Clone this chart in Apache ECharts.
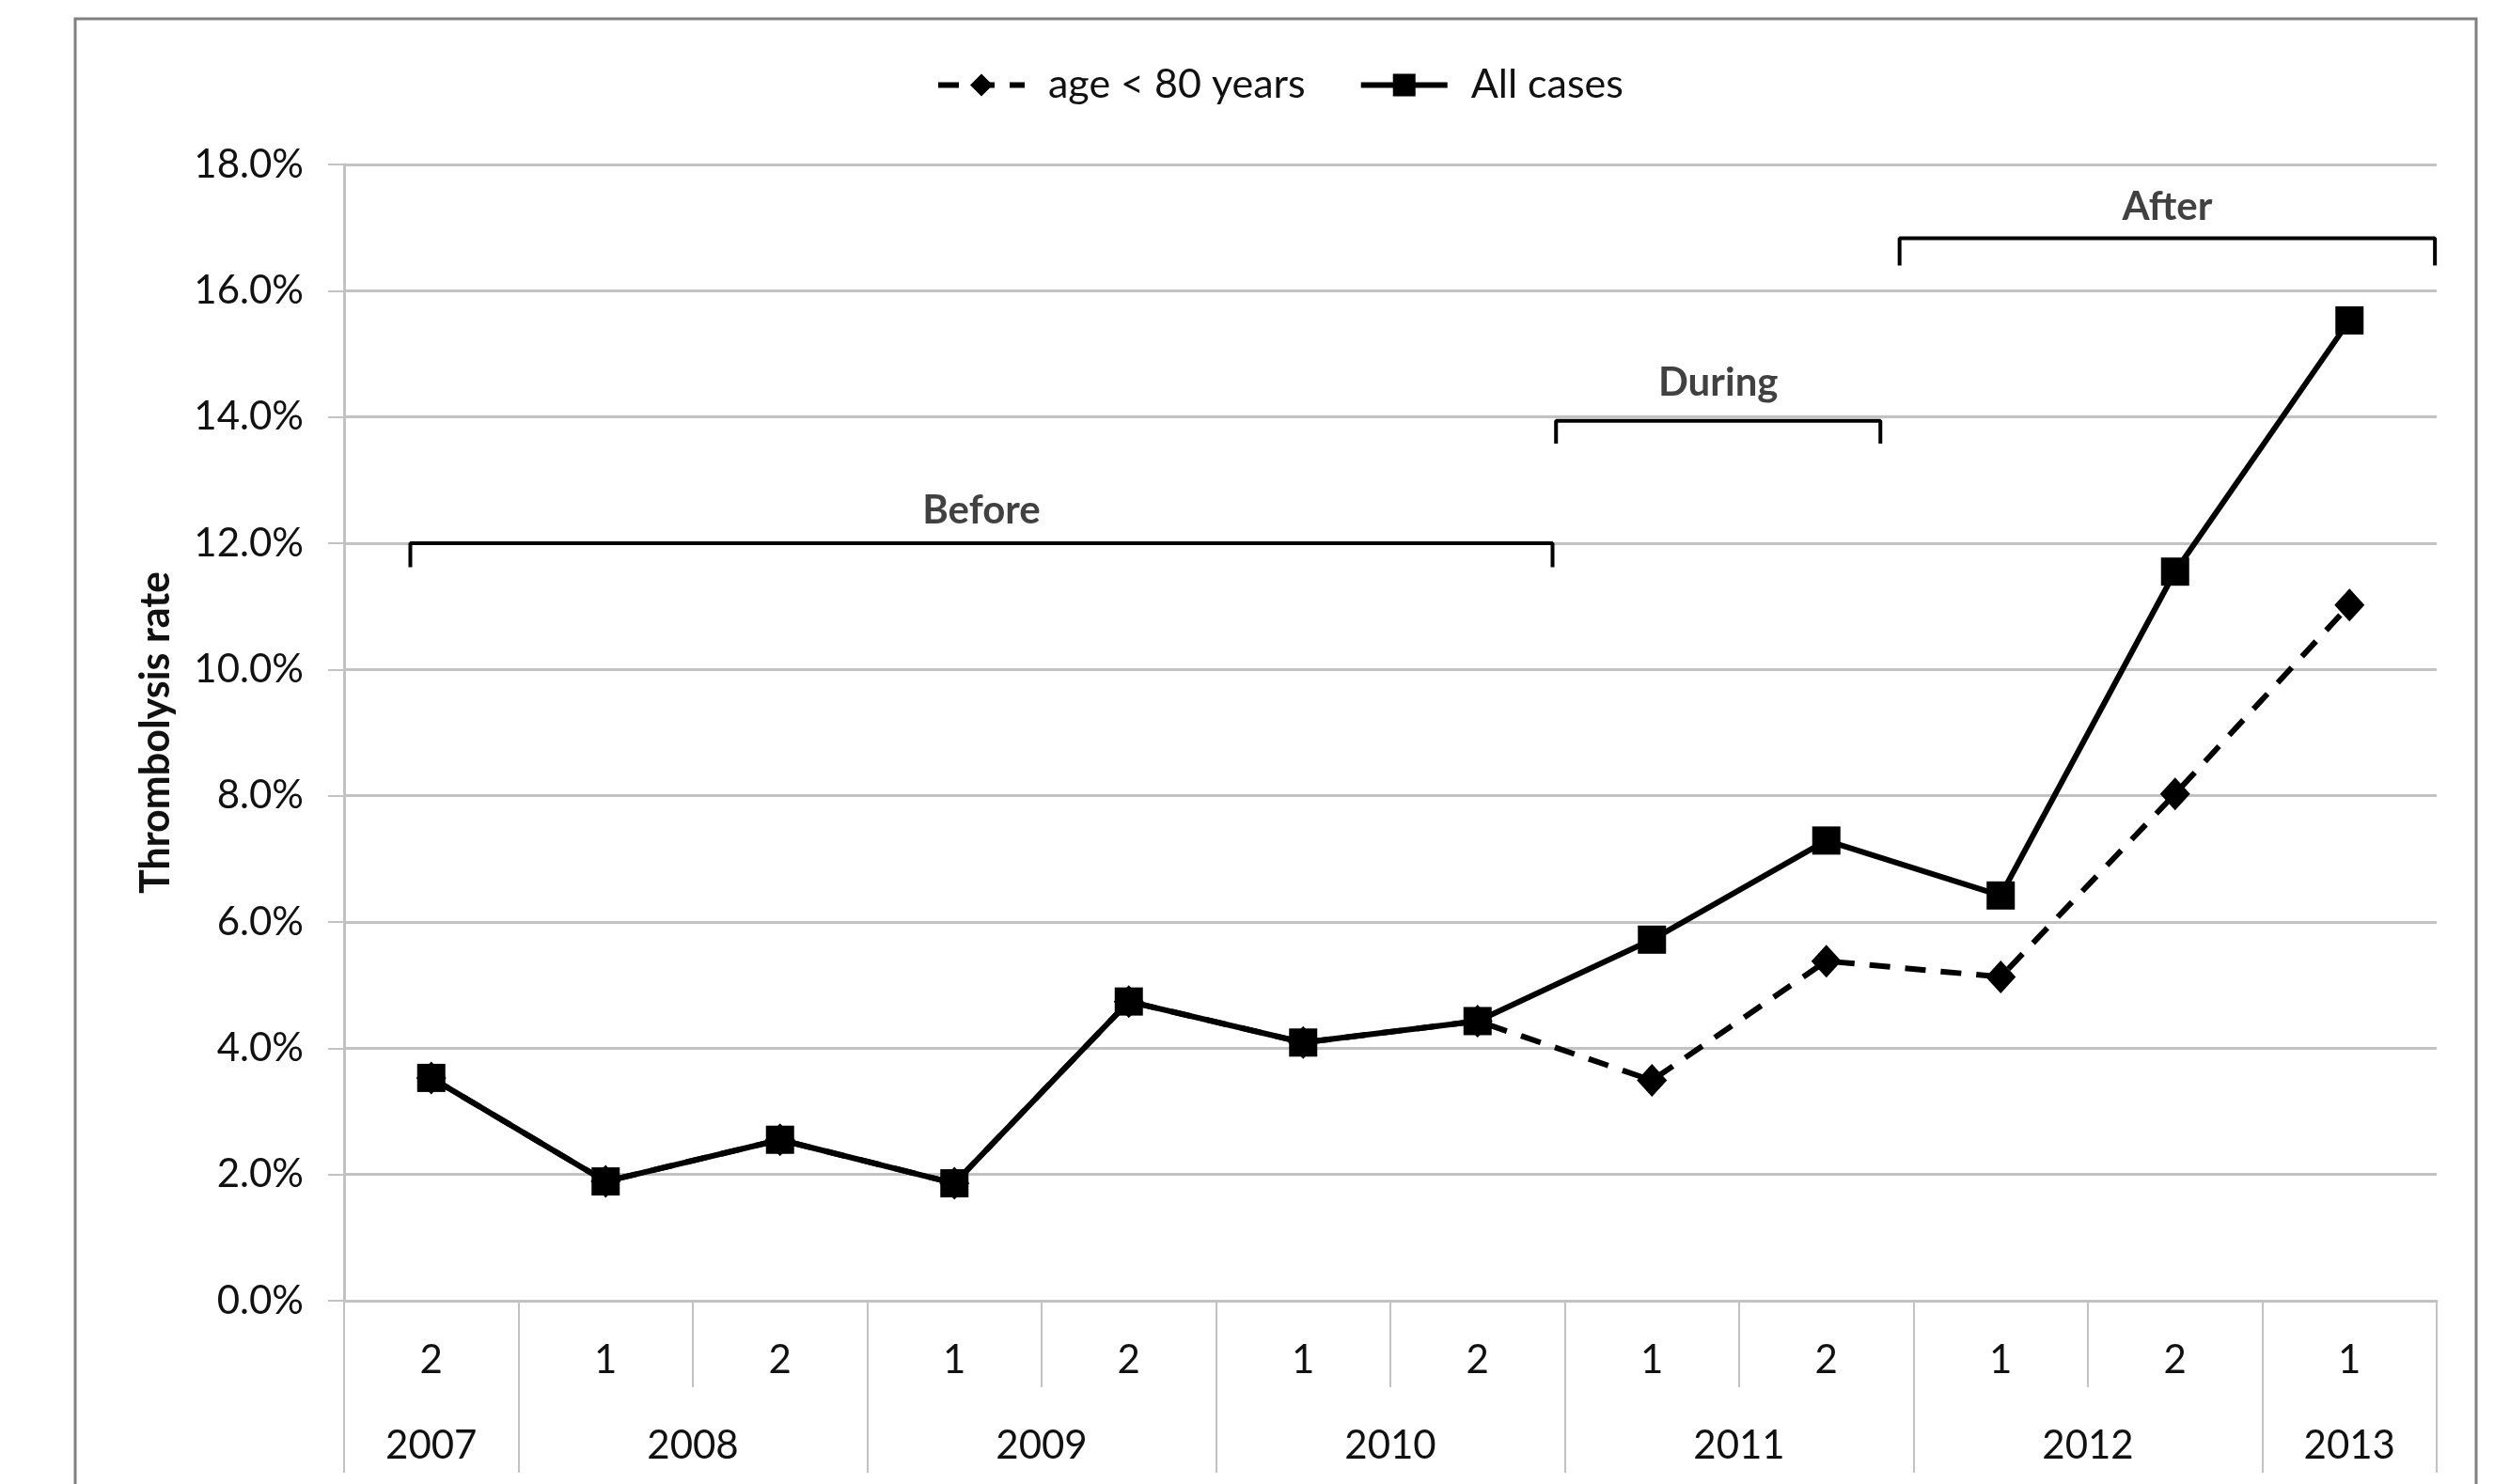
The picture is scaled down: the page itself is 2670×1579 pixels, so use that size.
<!DOCTYPE html>
<html>
<head>
<meta charset="utf-8">
<script src="https://cdn.jsdelivr.net/npm/echarts@6/dist/echarts.min.js"></script>
<style>
html,body{margin:0;padding:0;background:#fff;}
#chart{width:2670px;height:1579px;}
</style>
</head>
<body>
<div id="chart"></div>
<script>
// ---- data ----
const halfYears = ['2','1','2','1','2','1','2','1','2','1','2','1'];
const years = ['2007','2008','2009','2010','2011','2012','2013'];
const periodsPerYear = [1,2,2,2,2,2,1];
const allCases   = [3.53,1.89,2.55,1.86,4.74,4.09,4.43,5.72,7.29,6.42,11.55,15.53];
const ageUnder80 = [3.53,1.89,2.55,1.86,4.74,4.09,4.43,3.49,5.38,5.13,8.03,11.02];
const yTicks = [0,2,4,6,8,10,12,14,16,18];
const bracketLabels = ['Before','During','After'];
const bracketStart  = [0.38, 6.95, 8.92];
const bracketEnd    = [6.93, 8.81, 11.99];
const bracketTop    = [12.0, 13.94, 16.83];
const bracketDrop   = [0.38, 0.36, 0.43];

// derived
const yearBounds = [0];
periodsPerYear.forEach(n => yearBounds.push(yearBounds[yearBounds.length-1] + n));
const yearCenters = years.map((y,i) => (yearBounds[i] + yearBounds[i+1]) / 2);

const FONT = 'Lato, "Open Sans", sans-serif';
const GRAY = '#c2c2c2';
const TXT = '#111';
const labelDistances = [14, 19, 12];

const bracketSeries = bracketLabels.map((lab, i) => ({
  type: 'line',
  xAxisIndex: 1,
  yAxisIndex: 0,
  silent: true,
  symbol: 'none',
  z: 5,
  lineStyle: { color: '#000', width: 4 },
  data: [
    [bracketStart[i], bracketTop[i] - bracketDrop[i]],
    [bracketStart[i], bracketTop[i]],
    [bracketEnd[i], bracketTop[i]],
    [bracketEnd[i], bracketTop[i] - bracketDrop[i]]
  ]
}));

const bracketText = {
  type: 'scatter',
  xAxisIndex: 1,
  yAxisIndex: 0,
  silent: true,
  symbolSize: 0,
  z: 6,
  data: bracketLabels.map((lab, i) => ({
    name: lab,
    value: [(bracketStart[i] + bracketEnd[i]) / 2, bracketTop[i]],
    label: { distance: labelDistances[i] }
  })),
  label: {
    show: true,
    position: 'top',
    formatter: p => p.name,
    fontFamily: FONT,
    fontWeight: 'bold',
    fontSize: 42,
    color: TXT
  }
};

const chart = echarts.init(document.getElementById('chart'), null, { renderer: 'canvas' });
chart.setOption({
  animation: false,
  backgroundColor: '#fff',
  graphic: [{
    type: 'rect',
    z: -10,
    shape: { x: 80, y: 20, width: 2554, height: 1620 },
    style: { fill: 'none', stroke: '#808080', lineWidth: 3 }
  }],
  legend: {
    data: ['age < 80 years', 'All cases'],
    left: 990,
    top: 64,
    itemWidth: 92,
    itemHeight: 30,
    itemGap: 56,
    lineStyle: { width: 6 },
    textStyle: { fontFamily: FONT, fontSize: 43, color: TXT, padding: [0, 0, 0, 20] },
    selectedMode: false
  },
  grid: { left: 366, right: 78, top: 175, bottom: 195, containLabel: false },
  xAxis: [{
    type: 'category',
    position: 'bottom',
    data: halfYears,
    boundaryGap: true,
    axisLine: { show: true, lineStyle: { color: GRAY, width: 3 } },
    axisTick: { show: true, interval: 0, length: 92, lineStyle: { color: GRAY, width: 2 } },
    axisLabel: { interval: 0, margin: 42, fontFamily: FONT, fontSize: 42, color: TXT },
    splitLine: { show: false }
  }, {
    type: 'value',
    position: 'bottom',
    min: 0,
    max: halfYears.length,
    axisLine: { show: false },
    axisTick: { show: true, customValues: yearBounds, length: 183, lineStyle: { color: GRAY, width: 2 } },
    axisLabel: {
      show: true,
      customValues: yearCenters,
      margin: 133,
      fontFamily: FONT, fontSize: 42, color: TXT,
      formatter: v => {
        const idx = yearCenters.findIndex(c => Math.abs(c - v) < 1e-6);
        return idx >= 0 ? years[idx] : '';
      }
    },
    splitLine: { show: false }
  }],
  yAxis: [{
    type: 'value',
    min: yTicks[0],
    max: yTicks[yTicks.length-1],
    interval: yTicks[1] - yTicks[0],
    name: 'Thrombolysis rate',
    nameLocation: 'middle',
    nameRotate: 90,
    nameGap: 178,
    nameTextStyle: { fontFamily: FONT, fontWeight: 'bold', fontSize: 43, color: TXT },
    axisLine: { show: true, lineStyle: { color: GRAY, width: 3 } },
    axisTick: { show: true, length: 17, lineStyle: { color: GRAY, width: 2 } },
    axisLabel: { margin: 43, fontFamily: FONT, fontSize: 42, color: TXT, formatter: v => v.toFixed(1) + '%' },
    splitLine: { show: true, lineStyle: { color: GRAY, width: 3 } }
  }],
  series: [{
    name: 'age < 80 years',
    type: 'line',
    xAxisIndex: 0,
    data: ageUnder80,
    symbol: 'diamond',
    symbolSize: [32, 35],
    z: 3,
    itemStyle: { color: '#000' },
    lineStyle: { color: '#000', width: 6, type: [22, 16] }
  }, {
    name: 'All cases',
    type: 'line',
    xAxisIndex: 0,
    data: allCases,
    symbol: 'rect',
    symbolSize: 30,
    z: 4,
    itemStyle: { color: '#000' },
    lineStyle: { color: '#000', width: 6 }
  }].concat(bracketSeries, [bracketText])
});
</script>
</body>
</html>
